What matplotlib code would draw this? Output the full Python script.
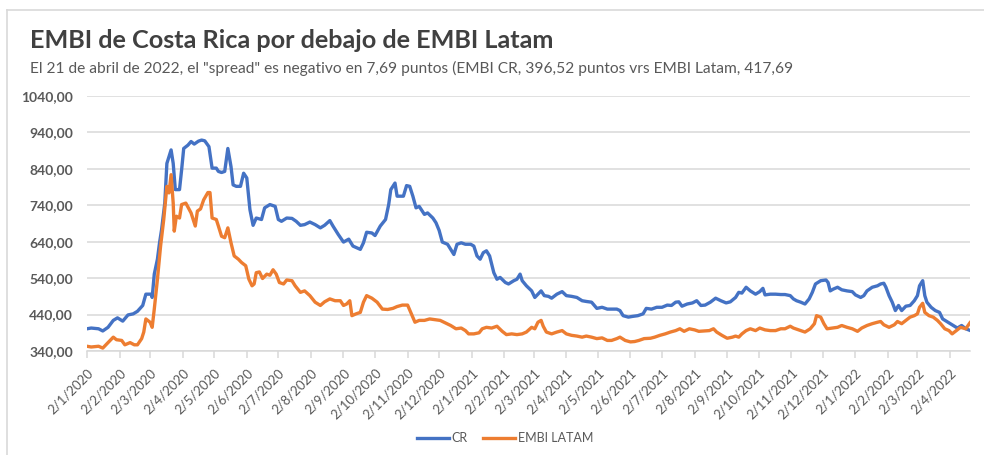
import matplotlib
matplotlib.use("Agg")
import matplotlib.pyplot as plt
import matplotlib.dates as mdates
from matplotlib.lines import Line2D
import pandas as pd

# ---------------- data ----------------
cr_dates = [
    "2020-01-02","2020-01-06","2020-01-13","2020-01-17","2020-01-22","2020-01-27","2020-01-31",
    "2020-02-05","2020-02-10","2020-02-15","2020-02-19","2020-02-24","2020-02-27","2020-03-03",
    "2020-03-04","2020-03-06","2020-03-09","2020-03-11","2020-03-13","2020-03-16","2020-03-18",
    "2020-03-22","2020-03-24","2020-03-26","2020-03-30","2020-04-01","2020-04-03","2020-04-07",
    "2020-04-10","2020-04-13","2020-04-17","2020-04-20","2020-04-23","2020-04-27","2020-04-30",
    "2020-05-04","2020-05-06","2020-05-09","2020-05-12","2020-05-15","2020-05-18","2020-05-20",
    "2020-05-23","2020-05-27","2020-05-30","2020-06-02","2020-06-05","2020-06-08","2020-06-11",
    "2020-06-16","2020-06-19","2020-06-24","2020-06-29","2020-07-02","2020-07-05","2020-07-10",
    "2020-07-15","2020-07-19","2020-07-23","2020-07-27","2020-08-01","2020-08-06","2020-08-11",
    "2020-08-15","2020-08-20","2020-08-23","2020-08-28","2020-09-02","2020-09-07","2020-09-11",
    "2020-09-18","2020-09-21","2020-09-24","2020-09-29","2020-10-02","2020-10-07","2020-10-12",
    "2020-10-15","2020-10-17","2020-10-21","2020-10-23","2020-10-27","2020-10-29","2020-11-01",
    "2020-11-04","2020-11-07","2020-11-10","2020-11-13","2020-11-18","2020-11-21","2020-11-26",
    "2020-11-29","2020-12-02","2020-12-05","2020-12-10","2020-12-13","2020-12-16","2020-12-19",
    "2020-12-23","2020-12-27","2021-01-01","2021-01-04","2021-01-07","2021-01-10","2021-01-13",
    "2021-01-16","2021-01-19","2021-01-23","2021-01-26","2021-01-29","2021-02-03","2021-02-06",
    "2021-02-11","2021-02-14","2021-02-17","2021-02-19","2021-02-23","2021-02-28","2021-03-03",
    "2021-03-06","2021-03-09","2021-03-12","2021-03-16","2021-03-19","2021-03-24","2021-03-29",
    "2021-04-02","2021-04-07","2021-04-12","2021-04-17","2021-04-21","2021-04-26","2021-05-01",
    "2021-05-06","2021-05-11","2021-05-15","2021-05-20","2021-05-23","2021-05-26","2021-05-31",
    "2021-06-04","2021-06-09","2021-06-14","2021-06-17","2021-06-22","2021-06-27","2021-07-02",
    "2021-07-07","2021-07-11","2021-07-15","2021-07-18","2021-07-21","2021-07-26","2021-07-31",
    "2021-08-04","2021-08-08","2021-08-12","2021-08-17","2021-08-22","2021-08-27","2021-09-01",
    "2021-09-05","2021-09-10","2021-09-13","2021-09-16","2021-09-20","2021-09-24","2021-09-29",
    "2021-10-03","2021-10-06","2021-10-08","2021-10-13","2021-10-18","2021-10-23","2021-10-27",
    "2021-11-01","2021-11-04","2021-11-07","2021-11-11","2021-11-15","2021-11-19","2021-11-22",
    "2021-11-25","2021-11-30","2021-12-05","2021-12-07","2021-12-09","2021-12-12","2021-12-16",
    "2021-12-20","2021-12-25","2021-12-30","2022-01-02","2022-01-07","2022-01-10","2022-01-13",
    "2022-01-18","2022-01-23","2022-01-26","2022-01-29","2022-01-31","2022-02-03","2022-02-06",
    "2022-02-09","2022-02-12","2022-02-15","2022-02-19","2022-02-23","2022-02-27","2022-03-02",
    "2022-03-04","2022-03-07","2022-03-09","2022-03-11","2022-03-15","2022-03-19","2022-03-23",
    "2022-03-26","2022-03-31","2022-04-04","2022-04-09","2022-04-13","2022-04-17","2022-04-21",
]
cr_values = [
    401, 403, 401, 395, 405, 424, 431,
    422, 439, 442, 449, 465, 496, 496,
    487, 551, 592, 637, 674, 746, 855,
    892, 855, 783, 783, 837, 896, 905,
    915, 908, 916, 919, 917, 901, 842,
    842, 833, 830, 833, 896, 846, 796,
    792, 792, 828, 815, 728, 685, 705,
    701, 733, 742, 737, 701, 696, 705,
    704, 696, 685, 687, 694, 687, 678,
    685, 698, 683, 660, 639, 647, 628,
    619, 637, 666, 664, 657, 683, 701,
    742, 783, 801, 765, 765, 765, 794,
    792, 765, 733, 737, 715, 719, 705,
    692, 671, 639, 633, 619, 605, 633,
    637, 633, 633, 628, 601, 592, 610,
    615, 601, 555, 537, 542, 528, 524,
    533, 537, 551, 533, 519, 505, 487,
    496, 505, 492, 490, 485, 496, 503,
    492, 490, 487, 478, 476, 474, 457,
    460, 455, 455, 455, 451, 437, 433,
    435, 437, 442, 457, 455, 460, 460,
    466, 465, 474, 475, 463, 469, 472,
    478, 465, 466, 474, 485, 478, 472,
    475, 487, 501, 499, 515, 505, 496,
    503, 512, 494, 496, 496, 495, 495,
    492, 483, 478, 474, 469, 483, 501,
    524, 533, 535, 528, 505, 510, 515,
    508, 505, 503, 494, 487, 492, 505,
    515, 519, 524, 526, 515, 492, 474,
    451, 465, 451, 463, 465, 478, 492,
    519, 533, 492, 474, 460, 451, 446,
    428, 419, 412, 403, 410, 401, 396.52,
]

latam_dates = [
    "2020-01-02","2020-01-06","2020-01-13","2020-01-17","2020-01-22","2020-01-27","2020-01-30",
    "2020-02-04","2020-02-07","2020-02-12","2020-02-16","2020-02-19","2020-02-23","2020-02-25",
    "2020-02-27","2020-03-02","2020-03-04","2020-03-06","2020-03-09","2020-03-12","2020-03-15",
    "2020-03-18","2020-03-20","2020-03-22","2020-03-24","2020-03-25","2020-03-27","2020-03-30",
    "2020-04-01","2020-04-05","2020-04-10","2020-04-14","2020-04-16","2020-04-19","2020-04-22",
    "2020-04-26","2020-04-28","2020-04-30","2020-05-04","2020-05-06","2020-05-09","2020-05-12",
    "2020-05-15","2020-05-18","2020-05-21","2020-05-25","2020-05-28","2020-06-01","2020-06-04",
    "2020-06-07","2020-06-09","2020-06-11","2020-06-14","2020-06-17","2020-06-21","2020-06-24",
    "2020-06-27","2020-06-30","2020-07-03","2020-07-07","2020-07-10","2020-07-15","2020-07-18",
    "2020-07-23","2020-07-27","2020-08-01","2020-08-06","2020-08-11","2020-08-15","2020-08-20",
    "2020-08-25","2020-08-30","2020-09-02","2020-09-05","2020-09-08","2020-09-10","2020-09-14",
    "2020-09-18","2020-09-21","2020-09-24","2020-09-29","2020-10-04","2020-10-09","2020-10-14",
    "2020-10-19","2020-10-23","2020-10-28","2020-11-02","2020-11-05","2020-11-09","2020-11-13",
    "2020-11-18","2020-11-23","2020-11-28","2020-12-03","2020-12-08","2020-12-13","2020-12-18",
    "2020-12-23","2020-12-27","2020-12-30","2021-01-04","2021-01-09","2021-01-12","2021-01-16",
    "2021-01-21","2021-01-26","2021-01-31","2021-02-04","2021-02-09","2021-02-14","2021-02-19",
    "2021-02-23","2021-02-28","2021-03-03","2021-03-06","2021-03-09","2021-03-11","2021-03-14",
    "2021-03-19","2021-03-24","2021-03-29","2021-04-02","2021-04-07","2021-04-12","2021-04-17",
    "2021-04-21","2021-04-26","2021-05-01","2021-05-06","2021-05-11","2021-05-15","2021-05-20",
    "2021-05-23","2021-05-28","2021-06-02","2021-06-06","2021-06-10","2021-06-15","2021-06-21",
    "2021-06-25","2021-06-30","2021-07-05","2021-07-10","2021-07-15","2021-07-19","2021-07-23",
    "2021-07-28","2021-08-02","2021-08-06","2021-08-11","2021-08-16","2021-08-20","2021-08-23",
    "2021-08-28","2021-09-02","2021-09-07","2021-09-10","2021-09-13","2021-09-16","2021-09-20",
    "2021-09-24","2021-09-29","2021-10-03","2021-10-08","2021-10-13","2021-10-18","2021-10-23",
    "2021-10-27","2021-11-01","2021-11-04","2021-11-07","2021-11-11","2021-11-15","2021-11-20",
    "2021-11-24","2021-11-26","2021-11-30","2021-12-03","2021-12-06","2021-12-11","2021-12-16",
    "2021-12-20","2021-12-25","2021-12-30","2022-01-04","2022-01-08","2022-01-13","2022-01-18",
    "2022-01-23","2022-01-26","2022-01-29","2022-02-03","2022-02-08","2022-02-11","2022-02-15",
    "2022-02-19","2022-02-23","2022-02-27","2022-03-02","2022-03-04","2022-03-07","2022-03-09",
    "2022-03-13","2022-03-17","2022-03-21","2022-03-24","2022-03-28","2022-04-01","2022-04-04",
    "2022-04-08","2022-04-12","2022-04-17","2022-04-21",
]
latam_values = [
    353, 351, 353, 348, 363, 378, 371,
    369, 357, 363, 357, 357, 374, 392,
    428, 419, 405, 455, 537, 628, 701,
    792, 774, 824, 746, 669, 710, 705,
    742, 746, 719, 683, 724, 730, 755,
    775, 775, 705, 701, 683, 655, 651,
    678, 637, 601, 592, 583, 574, 537,
    519, 524, 555, 557, 539, 551, 548,
    563, 551, 528, 524, 535, 533, 519,
    501, 505, 492, 474, 465, 475, 483,
    478, 478, 465, 469, 478, 437, 442,
    446, 474, 492, 485, 474, 455, 454,
    457, 462, 466, 466, 446, 419, 424,
    424, 428, 426, 424, 417, 410, 401,
    403, 396, 387, 387, 390, 401, 405,
    403, 408, 394, 385, 387, 385, 387,
    392, 405, 401, 419, 424, 408, 392,
    387, 392, 396, 387, 383, 381, 378,
    381, 378, 374, 376, 369, 369, 374,
    378, 369, 365, 366, 369, 374, 375,
    378, 383, 387, 392, 396, 401, 394,
    401, 398, 394, 395, 396, 401, 392,
    383, 375, 378, 381, 378, 387, 396,
    401, 396, 403, 398, 396, 396, 401,
    401, 408, 403, 400, 396, 392, 401,
    415, 437, 433, 415, 401, 403, 405,
    410, 405, 401, 394, 403, 410, 415,
    419, 421, 412, 405, 412, 421, 415,
    424, 433, 437, 442, 460, 471, 446,
    437, 433, 424, 415, 401, 396, 387,
    396, 405, 401, 417.69,
]

tick_labels = [
    "2/1/2020","2/2/2020","2/3/2020","2/4/2020","2/5/2020","2/6/2020","2/7/2020",
    "2/8/2020","2/9/2020","2/10/2020","2/11/2020","2/12/2020","2/1/2021","2/2/2021",
    "2/3/2021","2/4/2021","2/5/2021","2/6/2021","2/7/2021","2/8/2021","2/9/2021",
    "2/10/2021","2/11/2021","2/12/2021","2/1/2022","2/2/2022","2/3/2022","2/4/2022",
]
y_ticks = [340, 440, 540, 640, 740, 840, 940, 1040]

series_names = ["CR", "EMBI LATAM"]
title = "EMBI de Costa Rica por debajo de EMBI Latam"
subtitle = ('El 21 de abril de 2022, el "spread" es negativo en 7,69 puntos '
            '(EMBI CR, 396,52 puntos vrs EMBI Latam, 417,69')

# ---------------- style ----------------
FONT = ["Lato", "DejaVu Sans"]
plt.rcParams["font.family"] = FONT
BLUE = "#4472C4"
ORANGE = "#ED7D31"
GRID = "#D9D9D9"
TXT = "#595959"

W, H = 984, 455
fig = plt.figure(figsize=(W / 100, H / 100), dpi=100)
fig.patch.set_facecolor("white")

ax = fig.add_axes([87 / W, 1 - 351 / H, (970 - 87) / W, (351 - 96) / H])

cr_x = pd.to_datetime(cr_dates)
la_x = pd.to_datetime(latam_dates)
l1, = ax.plot(cr_x, cr_values, color=BLUE, lw=2.4, solid_joinstyle="round")
l2, = ax.plot(la_x, latam_values, color=ORANGE, lw=2.4, solid_joinstyle="round")

ax.set_ylim(y_ticks[0], y_ticks[-1])
ax.set_yticks(y_ticks)
ax.set_yticklabels([f"{v:.2f}".replace(".", ",") for v in y_ticks],
                   fontsize=10, fontweight="bold", color=TXT)
ax.yaxis.grid(True, color=GRID, lw=1.1)
ax.set_axisbelow(True)

tick_dates = pd.to_datetime(tick_labels, format="%d/%m/%Y")
ax.set_xlim(pd.Timestamp(cr_dates[0]), pd.Timestamp(cr_dates[-1]))
ax.set_xticks(tick_dates)
ax.set_xticklabels(tick_labels, rotation=45, ha="right", va="top",
                   rotation_mode="anchor", fontsize=9.5, color=TXT)

for s in ["left", "right", "top"]:
    ax.spines[s].set_visible(False)
ax.spines["bottom"].set_color(GRID)
ax.spines["bottom"].set_linewidth(1.1)
ax.tick_params(axis="y", length=0, pad=10)
ax.tick_params(axis="x", length=5, width=1.1, color=GRID, pad=6)

# titles
fig.text(30 / W, 1 - 40 / H, title, fontsize=18.2, fontweight="bold",
         color="#404040", ha="left", va="center")
fig.text(30 / W, 1 - 68 / H, subtitle, fontsize=11.2, color=TXT,
         ha="left", va="center")

# legend
fig.legend([l1, l2], series_names, loc="center", bbox_to_anchor=(505 / W, 1 - 438 / H),
           ncol=2, frameon=False, fontsize=9, labelcolor=TXT,
           handlelength=2.6, handletextpad=0.2, columnspacing=1.2)

# chart area border
fig.add_artist(Line2D([7 / W, 1.0], [1 - 9.5 / H, 1 - 9.5 / H], color=GRID, lw=1.2,
                      transform=fig.transFigure))
fig.add_artist(Line2D([7 / W, 7 / W], [0, 1 - 9.5 / H], color=GRID, lw=1.2,
                      transform=fig.transFigure))

fig.savefig("out.png", dpi=100)
